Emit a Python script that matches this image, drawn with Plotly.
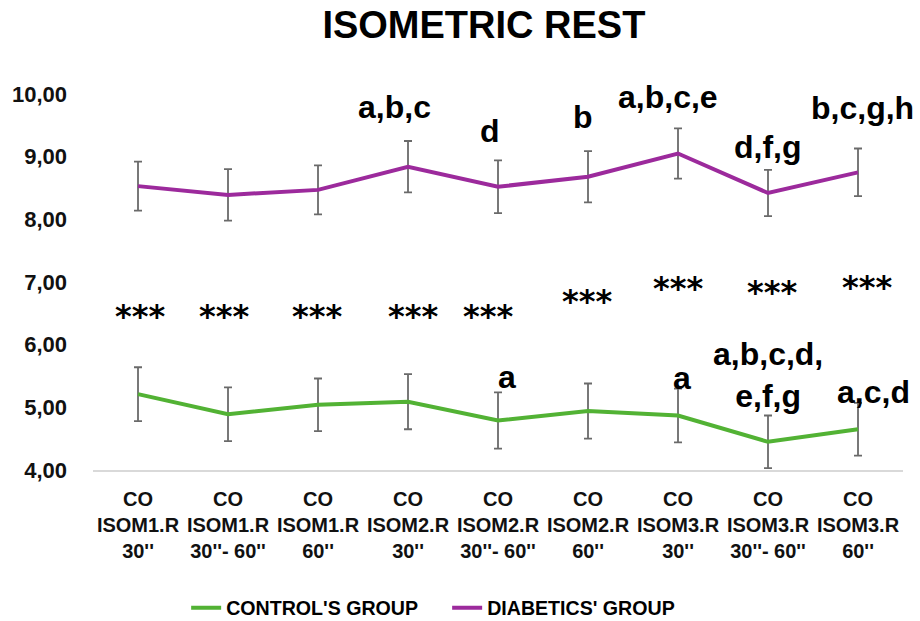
import plotly.graph_objects as go

categories = ["CO<br>ISOM1.R<br>30''", "CO<br>ISOM1.R<br>30''- 60''", "CO<br>ISOM1.R<br>60''",
              "CO<br>ISOM2.R<br>30''", "CO<br>ISOM2.R<br>30''- 60''", "CO<br>ISOM2.R<br>60''",
              "CO<br>ISOM3.R<br>30''", "CO<br>ISOM3.R<br>30''- 60''", "CO<br>ISOM3.R<br>60''"]

control_mean = [5.21, 4.89, 5.04, 5.09, 4.79, 4.94, 4.87, 4.45, 4.65]
control_sd = [0.43, 0.43, 0.42, 0.44, 0.45, 0.44, 0.43, 0.42, 0.42]
diabetic_mean = [8.53, 8.39, 8.47, 8.84, 8.52, 8.68, 9.05, 8.42, 8.75]
diabetic_sd = [0.39, 0.41, 0.39, 0.41, 0.42, 0.41, 0.40, 0.37, 0.38]

y_ticks = [4, 5, 6, 7, 8, 9, 10]
y_tick_labels = ["4,00", "5,00", "6,00", "7,00", "8,00", "9,00", "10,00"]

# significance markers between groups
star_text = ["***"] * 9
star_y = [6.51, 6.51, 6.51, 6.51, 6.51, 6.74, 6.95, 6.89, 6.97]
star_dx = [2, -4, -1, 5, -10, -1, 0, 4, 9]

# letters for diabetic group: (index, text, y, xshift)
diab_letters = [(3, "a,b,c", 9.79, -14), (4, "d", 9.41, -8), (5, "b", 9.63, -5),
                (6, "a,b,c,e", 9.95, -10), (7, "d,f,g", 9.15, 0), (8, "b,c,g,h", 9.78, 4)]
ctrl_letters = [(4, "a", 5.48, 9), (6, "a", 5.47, 4), (7, "a,b,c,d,<br>e,f,g", 5.52, 0),
                (8, "a,c,d", 5.24, 15)]

GREEN = "#52B234"
PURPLE = "#9C2A9C"
ERR = "#6a6a6a"
FONT = "Liberation Sans"

fig = go.Figure()
fig.add_trace(go.Scatter(
    x=categories, y=control_mean, mode="lines", name="CONTROL'S GROUP",
    line=dict(color=GREEN, width=4),
    error_y=dict(type="data", array=control_sd, color=ERR, thickness=1.8, width=4),
))
fig.add_trace(go.Scatter(
    x=categories, y=diabetic_mean, mode="lines", name="DIABETICS' GROUP",
    line=dict(color=PURPLE, width=4),
    error_y=dict(type="data", array=diabetic_sd, color=ERR, thickness=1.8, width=4),
))

for i, (t, yv, dx) in enumerate(zip(star_text, star_y, star_dx)):
    fig.add_annotation(x=i, y=yv, text=t, showarrow=False, xshift=dx, yshift=-3,
                       font=dict(family="DejaVu Sans", size=32, color="black", weight="bold"))

for i, t, yv, dx in diab_letters + ctrl_letters:
    fig.add_annotation(x=i, y=yv, text="<b>%s</b>" % t, showarrow=False, xshift=dx,
                       font=dict(family=FONT, size=32, color="black"))

fig.update_layout(
    width=920, height=621,
    margin=dict(l=93, r=17, t=94, b=151, autoexpand=False),
    paper_bgcolor="white", plot_bgcolor="white",
    title=dict(text="<b>ISOMETRIC REST</b>", x=0.526, xanchor="center", y=0.96, yanchor="middle",
               font=dict(family=FONT, size=38, color="black")),
    xaxis=dict(type="category", range=[-0.5, 8.5], showgrid=False, showline=True,
               linecolor="#d9d9d9", linewidth=1.5,
               ticks="", tickfont=dict(family=FONT, size=20, color="#111", weight="bold"),
               ticklabelstandoff=10),
    yaxis=dict(range=[4, 10], tickvals=y_ticks, ticktext=y_tick_labels, showgrid=False,
               showline=False, zeroline=False, ticks="", ticklabelstandoff=25,
               tickfont=dict(family=FONT, size=22, color="#111", weight="bold")),
    showlegend=True,
    legend=dict(orientation="h", x=0.115, xanchor="left", y=-0.367, yanchor="middle",
                itemwidth=30, entrywidth=216,
                font=dict(family=FONT, size=19.6, color="black", weight="bold"),
                traceorder="normal"),
)
fig.write_html("out.html")
